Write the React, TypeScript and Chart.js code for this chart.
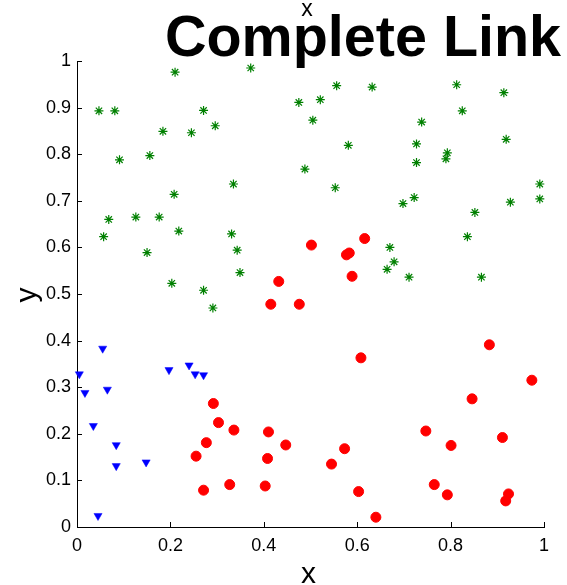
import React, { useEffect, useRef } from "react";
import { Chart, registerables } from "chart.js";
Chart.register(...registerables);

const titleText = "Complete Link";
const xLabel = "x";
const yLabel = "y";

const xTickValues = [0, 0.2, 0.4, 0.6, 0.8, 1];
const xTickLabels = ["0", "0.2", "0.4", "0.6", "0.8", "1"];
const yTickValues = [0, 0.1, 0.2, 0.3, 0.4, 0.5, 0.6, 0.7, 0.8, 0.9, 1];
const yTickLabels = ["0", "0.1", "0.2", "0.3", "0.4", "0.5", "0.6", "0.7", "0.8", "0.9", "1"];

const greenX = [0.047, 0.081, 0.091, 0.068, 0.057, 0.126, 0.156, 0.184, 0.176, 0.210, 0.208, 0.218, 0.245, 0.271, 0.296, 0.372, 0.335, 0.331, 0.343, 0.150, 0.475, 0.488, 0.349, 0.203, 0.271, 0.291, 0.556, 0.521, 0.632, 0.505, 0.738, 0.813, 0.914, 0.825, 0.727, 0.919, 0.793, 0.790, 0.727, 0.581, 0.553, 0.991, 0.991, 0.928, 0.722, 0.698, 0.852, 0.836, 0.670, 0.679, 0.664, 0.711, 0.866];
const greenY = [0.893, 0.893, 0.788, 0.660, 0.623, 0.665, 0.797, 0.849, 0.665, 0.976, 0.714, 0.635, 0.846, 0.894, 0.861, 0.985, 0.736, 0.629, 0.594, 0.589, 0.911, 0.768, 0.546, 0.523, 0.508, 0.470, 0.947, 0.917, 0.944, 0.873, 0.869, 0.949, 0.932, 0.893, 0.822, 0.832, 0.803, 0.790, 0.782, 0.819, 0.728, 0.736, 0.704, 0.697, 0.707, 0.694, 0.675, 0.623, 0.600, 0.569, 0.553, 0.536, 0.536];

const redX = [0.502, 0.616, 0.577, 0.583, 0.589, 0.476, 0.415, 0.432, 0.883, 0.608, 0.974, 0.846, 0.292, 0.303, 0.336, 0.410, 0.277, 0.447, 0.255, 0.408, 0.271, 0.327, 0.403, 0.747, 0.573, 0.545, 0.801, 0.911, 0.603, 0.765, 0.793, 0.924, 0.918, 0.640];
const redY = [0.605, 0.619, 0.584, 0.588, 0.538, 0.478, 0.478, 0.527, 0.391, 0.363, 0.315, 0.275, 0.265, 0.224, 0.208, 0.204, 0.181, 0.176, 0.152, 0.147, 0.079, 0.091, 0.088, 0.206, 0.168, 0.135, 0.175, 0.192, 0.076, 0.091, 0.069, 0.071, 0.056, 0.021];

const blueX = [0.005, 0.017, 0.055, 0.065, 0.197, 0.240, 0.253, 0.271, 0.035, 0.084, 0.084, 0.148, 0.045];
const blueY = [0.328, 0.288, 0.383, 0.295, 0.337, 0.347, 0.328, 0.326, 0.217, 0.176, 0.131, 0.139, 0.024];

const FONT = '"Liberation Sans", Arial, Helvetica, sans-serif';

const toPoints = (xs: number[], ys: number[]) => xs.map((x, i) => ({ x, y: ys[i] }));

const decorPlugin = {
  id: "decor",
  beforeDatasetsDraw(chart: any) {
    const ctx = chart.ctx;
    const xs = chart.scales.x;
    const ys = chart.scales.y;
    const area = chart.chartArea;
    ctx.save();
    ctx.strokeStyle = "#000";
    ctx.lineWidth = 1;
    ctx.beginPath();
    xs.ticks.forEach((t: any) => {
      const px = Math.round(xs.getPixelForValue(t.value)) + 0.5;
      ctx.moveTo(px, area.bottom);
      ctx.lineTo(px, area.bottom - 5);
    });
    ys.ticks.forEach((t: any) => {
      const py = Math.round(ys.getPixelForValue(t.value)) + 0.5;
      ctx.moveTo(area.left, py);
      ctx.lineTo(area.left + 5, py);
    });
    ctx.stroke();
    ctx.restore();
  },
  afterDraw(chart: any) {
    const ctx = chart.ctx;
    const xs = chart.scales.x;
    const ys = chart.scales.y;
    const midX = (xs.left + xs.right) / 2;
    const midY = (ys.top + ys.bottom) / 2;
    ctx.save();
    ctx.fillStyle = "#000";
    ctx.textAlign = "center";
    ctx.textBaseline = "alphabetic";
    ctx.font = `23px ${FONT}`;
    ctx.fillText(xLabel, 307, 16);
    ctx.font = `bold 57.5px ${FONT}`;
    ctx.fillText(titleText, 363, 56);
    ctx.font = `30px ${FONT}`;
    ctx.fillText(xLabel, midX - 2, 583);
    ctx.translate(35.6, midY + 1);
    ctx.rotate(-Math.PI / 2);
    ctx.fillText(yLabel, 0, 0);
    ctx.restore();
  },
};

export default function App() {
  const ref = useRef<HTMLCanvasElement | null>(null);
  useEffect(() => {
    if (!ref.current) return;
    const chart = new Chart(ref.current, {
      type: "scatter",
      data: {
        datasets: [
          {
            data: toPoints(greenX, greenY),
            pointStyle: "star",
            pointRadius: 4.5,
            borderColor: "#008000",
            backgroundColor: "#008000",
            borderWidth: 1.2,
            clip: false,
          } as any,
          {
            data: toPoints(blueX, blueY),
            pointStyle: "triangle",
            pointRotation: 180,
            pointRadius: 4.7,
            borderColor: "#0000ff",
            backgroundColor: "#0000ff",
            borderWidth: 0.5,
            clip: false,
          } as any,
          {
            data: toPoints(redX, redY),
            pointStyle: "circle",
            pointRadius: 5,
            borderColor: "#ff0000",
            backgroundColor: "#ff0000",
            borderWidth: 1,
            clip: false,
          } as any,
        ],
      },
      options: {
        responsive: false,
        animation: false,
        devicePixelRatio: 1,
        layout: { padding: { left: 0, right: 23, top: 61, bottom: 0 } },
        plugins: {
          legend: { display: false },
          tooltip: { enabled: false },
          title: { display: false },
        },
        events: [],
        scales: {
          x: {
            type: "linear",
            min: 0,
            max: 1,
            afterFit: (s: any) => {
              s.height = 58;
            },
            afterBuildTicks: (s: any) => {
              s.ticks = xTickValues.map((v) => ({ value: v }));
            },
            ticks: {
              padding: 8,
              color: "#000",
              font: { family: FONT, size: 18 },
              maxRotation: 0,
              callback: (_v: any, i: number) => xTickLabels[i],
            },
            grid: { display: true, drawOnChartArea: false, drawTicks: false },
            border: { display: true, color: "#000", width: 1 },
          },
          y: {
            type: "linear",
            min: 0,
            max: 1,
            afterFit: (s: any) => {
              s.width = 77;
            },
            afterBuildTicks: (s: any) => {
              s.ticks = yTickValues.map((v) => ({ value: v }));
            },
            ticks: {
              padding: 6,
              color: "#000",
              font: { family: FONT, size: 18 },
              callback: (_v: any, i: number) => yTickLabels[i],
            },
            grid: { display: true, drawOnChartArea: false, drawTicks: false },
            border: { display: true, color: "#000", width: 1 },
          },
        },
      },
      plugins: [decorPlugin],
    });
    return () => chart.destroy();
  }, []);
  return (
    <div style={{ position: "absolute", left: 0, top: 0, width: 567, height: 585, background: "#fff" }}>
      <canvas ref={ref} width={567} height={585} style={{ display: "block", width: 567, height: 585 }} />
    </div>
  );
}
